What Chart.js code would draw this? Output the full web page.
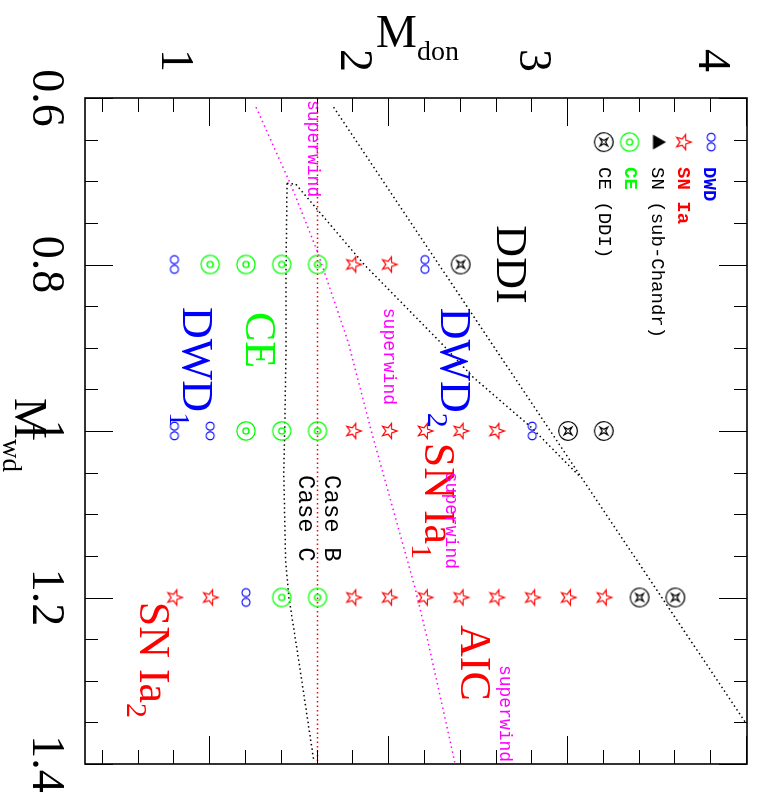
<!DOCTYPE html>
<html>
<head>
<meta charset="utf-8">
<script src="https://cdn.jsdelivr.net/npm/chart.js@4.4.1/dist/chart.umd.min.js"></script>
<style>
  html, body { margin: 0; padding: 0; background: #fff; overflow: hidden; }
  /* the figure is laid out landscape and shown turned a quarter clockwise */
  #turn { position: absolute; left: 0; top: 0; width: 806px; height: 758px;
          transform-origin: 0 0; transform: translate(758px, 0) rotate(90deg); }
</style>
</head>
<body>
<div id="turn"><canvas id="plot" width="806" height="758"></canvas></div>
<script>
// x: white dwarf mass, y: donor mass (Msun)
const wdTicks = [0.6, 0.8, 1, 1.2, 1.4];
const donTicks = [1, 2, 3, 4];

// outcome of each model on the grid
const dwdWd  = [0.8, 0.8, 1.0, 1.0, 1.0, 1.2];
const dwdDon = [1.0, 2.4, 1.0, 1.2, 3.0, 1.4];

const snWd  = [0.8, 0.8, 1.0, 1.0, 1.0, 1.0, 1.0, 1.2, 1.2, 1.2, 1.2, 1.2, 1.2, 1.2, 1.2, 1.2, 1.2];
const snDon = [2.0, 2.2, 2.0, 2.2, 2.4, 2.6, 2.8, 1.0, 1.2, 2.0, 2.2, 2.4, 2.6, 2.8, 3.0, 3.2, 3.4];

const ceWd  = [0.8, 0.8, 0.8, 0.8, 1.0, 1.0, 1.0, 1.2, 1.2];
const ceDon = [1.2, 1.4, 1.6, 1.8, 1.4, 1.6, 1.8, 1.6, 1.8];

const ddiWd  = [0.8, 1.0, 1.0, 1.2, 1.2];
const ddiDon = [2.6, 3.2, 3.4, 3.6, 3.8];

// key in the upper corner
const keyWd  = [0.653, 0.653, 0.653, 0.653, 0.653];
const keyDon = [4.0, 3.844, 3.711, 3.544, 3.4];
const keyNames = ['DWD', 'SN Ia', 'SN (sub-Chandr)', 'CE', 'CE (DDI)'];
const keyTextDon = [3.961, 3.817, 3.667, 3.517, 3.372];

// boundaries
const ddiEdgeWd  = [0.611, 1.351];
const ddiEdgeDon = [1.889, 4.194];
const dwdEdgeWd  = [0.7025, 0.7035, 0.80, 0.894, 0.935, 0.995, 1.055];
const dwdEdgeDon = [1.629, 1.678, 2.06, 2.489, 2.667, 2.991, 3.267];
const ceEdgeWd   = [0.7025, 0.80, 0.894, 0.990, 1.050, 1.155, 1.199, 1.275, 1.395];
const ceEdgeDon  = [1.629, 1.624, 1.624, 1.617, 1.611, 1.621, 1.639, 1.694, 1.778];
const windWd     = [0.611, 0.707, 0.785, 0.894, 1.0, 1.188, 1.253, 1.398];
const windDon    = [1.456, 1.656, 1.80, 1.972, 2.10, 2.344, 2.417, 2.567];
const caseWd     = [0.6, 1.4];
const caseDon    = [1.8, 1.8];

const BLUE = '#0000ff', RED = '#ff0000', GREEN = '#00ff00', MAGENTA = '#ff00ff';
const SERIF = '"Liberation Serif", "DejaVu Serif", serif';
const MONO = '"Liberation Mono", "DejaVu Sans Mono", monospace';

// text placed in the plot: text, subscript, start wd, baseline don, colour, kind
const notes = [
  ['DDI', '', 0.753, 2.80, '#000', 'big'],
  ['DWD', '2', 0.852, 2.489, BLUE, 'big'],
  ['DWD', '1', 0.851, 1.046, BLUE, 'big'],
  ['CE', '', 0.857, 1.40, GREEN, 'big'],
  ['SN Ia', '1', 1.014, 2.398, RED, 'big'],
  ['AIC', '', 1.233, 2.60, RED, 'big'],
  ['SN Ia', '2', 1.205, 0.806, RED, 'big'],
  ['Case B', '', 1.053, 1.844, '#000', 'case'],
  ['Case C', '', 1.053, 1.694, '#000', 'case'],
  ['superwind', '', 0.6024, 1.746, MAGENTA, 'wind'],
  ['superwind', '', 0.852, 2.172, MAGENTA, 'wind'],
  ['superwind', '', 1.049, 2.515, MAGENTA, 'wind'],
  ['superwind', '', 1.281, 2.822, MAGENTA, 'wind'],
];

const pts = (xs, ys) => xs.map((x, i) => ({ x, y: ys[i] }));

function marker(size, paint) {
  const c = document.createElement('canvas');
  c.width = size;
  c.height = size;
  const g = c.getContext('2d');
  g.translate(size / 2, size / 2);
  paint(g);
  return c;
}

const dwdMark = marker(22, (g) => {
  g.strokeStyle = BLUE;
  g.lineWidth = 1.2;
  [-4.8, 4.8].forEach((dx) => {
    g.beginPath();
    g.arc(dx, 0, 4, 0, Math.PI * 2);
    g.stroke();
  });
});

const starMark = marker(20, (g) => {
  g.strokeStyle = RED;
  g.lineWidth = 1.2;
  g.beginPath();
  for (let i = 0; i < 10; i++) {
    const r = i % 2 ? 3.3 : 8;
    const a = -Math.PI / 2 + (i * Math.PI) / 5;
    g.lineTo(r * Math.cos(a), r * Math.sin(a));
  }
  g.closePath();
  g.stroke();
});

const ceMark = marker(22, (g) => {
  g.strokeStyle = GREEN;
  g.lineWidth = 1.3;
  [9.2, 3].forEach((r) => {
    g.beginPath();
    g.arc(0, 0, r, 0, Math.PI * 2);
    g.stroke();
  });
});

const ddiMark = marker(22, (g) => {
  g.strokeStyle = '#000';
  g.lineWidth = 1.2;
  g.beginPath();
  g.arc(0, 0, 9.4, 0, Math.PI * 2);
  g.stroke();
  g.beginPath();
  for (let i = 0; i < 8; i++) {
    const r = i % 2 ? 1.7 : 5.5;
    const a = Math.PI / 4 + (i * Math.PI) / 4;
    g.lineTo(r * Math.cos(a), r * Math.sin(a));
  }
  g.closePath();
  g.stroke();
});

const triMark = marker(18, (g) => {
  g.fillStyle = '#000';
  g.beginPath();
  g.moveTo(0, -6.5);
  g.lineTo(7.5, 6.5);
  g.lineTo(-7.5, 6.5);
  g.closePath();
  g.fill();
});

const symbols = (data, style) => ({
  data, showLine: false, pointStyle: style, pointRadius: 10, pointHoverRadius: 10,
});

const curve = (data, colour, dash) => ({
  data, showLine: true, pointRadius: 0, borderColor: colour, borderWidth: 1.5,
  borderDash: dash, fill: false, tension: 0,
});

function text(ctx, s, sub, x, y, font, subFont, drop) {
  ctx.font = font;
  ctx.fillText(s, x, y);
  if (sub) {
    const w = ctx.measureText(s).width;
    ctx.font = subFont;
    ctx.fillText(sub, x + w, y + drop);
  }
}

const dressing = {
  id: 'dressing',
  afterDatasetsDraw(chart) {
    const { ctx, chartArea: a } = chart;
    const xs = chart.scales.x;
    const ys = chart.scales.y;
    ctx.save();

    // ticks on all four sides, pointing in
    ctx.strokeStyle = '#000';
    ctx.lineWidth = 1;
    ctx.beginPath();
    for (let k = 0; k <= 16; k++) {
      const v = 0.6 + k * 0.05;
      const len = k % 4 === 0 ? 28 : 13;
      const px = Math.round(xs.getPixelForValue(v)) + 0.5;
      ctx.moveTo(px, a.bottom); ctx.lineTo(px, a.bottom - len);
      ctx.moveTo(px, a.top); ctx.lineTo(px, a.top + len);
    }
    for (let k = 0; k <= 18; k++) {
      const v = 0.6 + k * 0.2;
      const len = (k + 2) % 5 === 0 ? 28 : 14;
      const py = Math.round(ys.getPixelForValue(v)) + 0.5;
      ctx.moveTo(a.left, py); ctx.lineTo(a.left + len, py);
      ctx.moveTo(a.right, py); ctx.lineTo(a.right - len, py);
    }
    ctx.stroke();
    ctx.lineWidth = 1.6;
    ctx.strokeRect(a.left, a.top, a.right - a.left, a.bottom - a.top);

    ctx.textAlign = 'left';
    ctx.textBaseline = 'alphabetic';

    // labels inside the plot
    notes.forEach(([s, sub, wd, don, colour, kind]) => {
      const x = xs.getPixelForValue(wd);
      const y = ys.getPixelForValue(don);
      ctx.fillStyle = colour;
      if (kind === 'big') text(ctx, s, sub, x, y, `44px ${SERIF}`, `30px ${SERIF}`, 13);
      else if (kind === 'case') text(ctx, s, '', x, y, `24px ${MONO}`);
      else text(ctx, s, '', x, y, `18px ${MONO}`);
    });

    // key text
    keyNames.forEach((s, i) => {
      const x = xs.getPixelForValue(0.683);
      const y = ys.getPixelForValue(keyTextDon[i]);
      const colour = [BLUE, RED, '#000', GREEN, '#000'][i];
      ctx.fillStyle = colour;
      ctx.font = `${colour === '#000' ? '' : 'bold '}19px ${MONO}`;
      ctx.fillText(s, x, y);
    });

    // axis titles
    ctx.fillStyle = '#000';
    const midX = (a.left + a.right) / 2;
    text(ctx, 'M', 'wd', midX - 33, a.bottom + 70, `46px ${SERIF}`, `27px ${SERIF}`, 12);
    const midY = (a.top + a.bottom) / 2;
    ctx.translate(47, midY + 40);
    ctx.rotate(-Math.PI / 2);
    text(ctx, 'M', 'don', 0, 0, `46px ${SERIF}`, `28px ${SERIF}`, 13);
    ctx.restore();
  },
};

// keep the plot box where it is, whatever the label sizes
const noOverhang = (s) => {
  s.paddingTop = 0;
  s.paddingBottom = 0;
  s.paddingLeft = 0;
  s.paddingRight = 0;
};

new Chart(document.getElementById('plot'), {
  type: 'scatter',
  data: {
    datasets: [
      symbols(pts(keyWd, keyDon), [dwdMark, starMark, triMark, ceMark, ddiMark]),
      symbols(pts(dwdWd, dwdDon), dwdMark),
      symbols(pts(snWd, snDon), starMark),
      symbols(pts(ceWd, ceDon), ceMark),
      symbols(pts(ddiWd, ddiDon), ddiMark),
      curve(pts(caseWd, caseDon), RED, [1.5, 3]),
      curve(pts(windWd, windDon), MAGENTA, [1.5, 3.5]),
      curve(pts(ceEdgeWd, ceEdgeDon), '#000', [1.5, 3]),
      curve(pts(dwdEdgeWd, dwdEdgeDon), '#000', [1.5, 3]),
      curve(pts(ddiEdgeWd, ddiEdgeDon), '#000', [1.5, 3]),
    ],
  },
  options: {
    responsive: false,
    animation: false,
    events: [],
    layout: { padding: { top: 8, right: 42, left: 0, bottom: 0 } },
    plugins: { legend: { display: false }, tooltip: { enabled: false } },
    scales: {
      x: {
        type: 'linear',
        min: 0.6,
        max: 1.4,
        grid: { display: false, drawTicks: false },
        border: { display: false },
        afterBuildTicks: (s) => { s.ticks = wdTicks.map((value) => ({ value })); },
        afterFit: (s) => { s.height = 85; noOverhang(s); },
        ticks: {
          padding: 12,
          maxRotation: 0,
          autoSkip: false,
          color: '#000',
          font: { family: SERIF, size: 46 },
          callback: (v) => String(+v.toFixed(2)),
        },
      },
      y: {
        type: 'linear',
        min: 0.5,
        max: 4.2,
        grid: { display: false, drawTicks: false },
        border: { display: false },
        afterBuildTicks: (s) => { s.ticks = donTicks.map((value) => ({ value })); },
        afterFit: (s) => { s.width = 98; noOverhang(s); },
        ticks: {
          padding: 26,
          autoSkip: false,
          color: '#000',
          font: { family: SERIF, size: 46 },
          callback: (v) => String(v),
        },
      },
    },
  },
  plugins: [dressing],
});
</script>
</body>
</html>
